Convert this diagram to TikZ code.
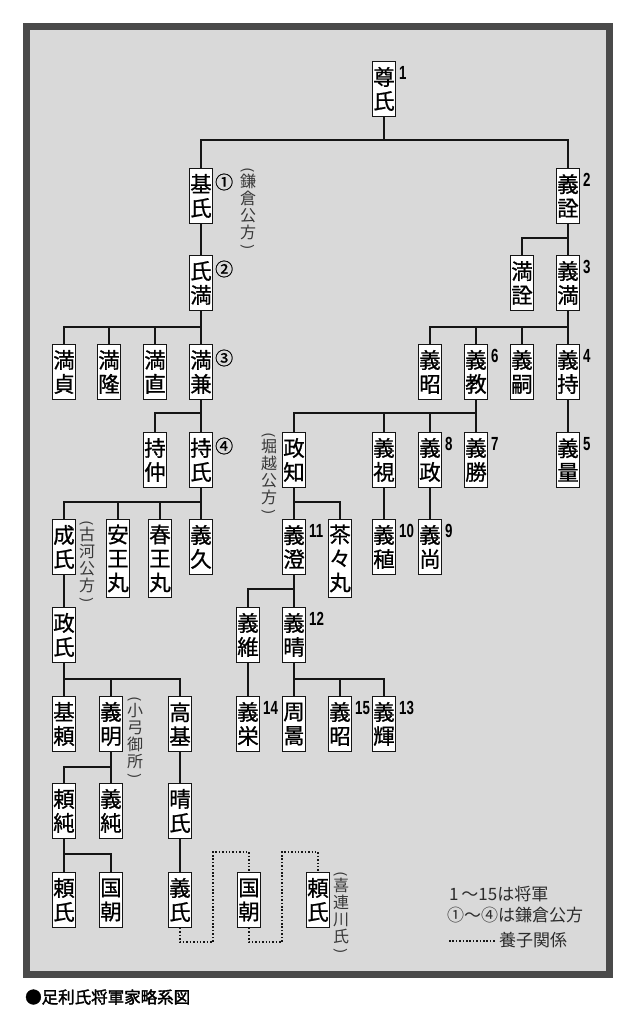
\documentclass[tikz,border=0pt]{standalone}
\usepackage{graphicx}
\usepackage{fontspec}
\setmainfont{Noto Sans CJK JP}
\newfontfamily\namefont[FakeBold=0.8]{Noto Sans CJK JP}
\newfontfamily\notefont{Noto Sans CJK JP}
\newfontfamily\numfont[FakeStretch=0.7]{Liberation Sans}
\newfontfamily\capfont[FakeBold=2]{Noto Sans CJK JP}
\definecolor{panel}{HTML}{D9D9D9}
\definecolor{rim}{HTML}{4A4A4A}
\definecolor{ink}{HTML}{151515}
\newcommand{\upparen}{\rotatebox[origin=c]{-90}{\scalebox{1}[0.85]{(}}}
\newcommand{\downparen}{\rotatebox[origin=c]{-90}{\scalebox{1}[0.85]{)}}}

\begin{document}
\begin{tikzpicture}[
  x=1pt, y=-1pt,
  person/.style={draw=ink, line width=0.9pt, fill=white, anchor=north, align=center,
    minimum width=23pt, minimum height=55pt, inner xsep=0.5pt, inner ysep=2pt,
    font=\namefont\fontsize{21.5}{24}\selectfont},
  tall/.style={minimum height=78pt},
  link/.style={draw=ink, line width=2.8pt},
  adopt/.style={draw=ink, line width=1.5pt, dash pattern=on 1.5pt off 1.9pt},
  shogun/.style={anchor=west, inner sep=0pt, font=\numfont\bfseries\fontsize{19}{19}\selectfont},
  kubo/.style={anchor=west, inner sep=0pt, font=\namefont\fontsize{18}{18}\selectfont},
  note/.style={anchor=north, align=center, inner sep=0pt, text=ink!85, font=\notefont\fontsize{16}{17}\selectfont},
  key/.style={anchor=west, inner sep=0pt, text=ink!90, font=\notefont\fontsize{17}{17}\selectfont}]

  \useasboundingbox[fill=white] (0,0) rectangle (638,1024);
  \draw[rim, line width=7pt, fill=panel] (26.5,26.5) rectangle (609.5,974.5);

  % bar heights
  \coordinate (g1) at (0,140);
  \coordinate (g2) at (0,238);
  \coordinate (g3) at (0,327);
  \coordinate (g4) at (0,413);
  \coordinate (g5) at (0,502);
  \coordinate (g6) at (0,589);
  \coordinate (g7) at (0,679);
  \coordinate (g8) at (0,767);
  \coordinate (g9) at (0,854);

  % people
  \node[person] (takauji) at (384,61) {尊\\氏};

  \node[person] (motouji) at (201,168) {基\\氏};
  \node[person] (yoshiakira) at (568,168) {義\\詮};

  \node[person] (ujimitsu) at (201,255) {氏\\満};
  \node[person] (mitsuakira) at (522,255) {満\\詮};
  \node[person] (yoshimitsu) at (568,255) {義\\満};

  \node[person] (mitsusada) at (64,344) {満\\貞};
  \node[person] (mitsutaka) at (109,344) {満\\隆};
  \node[person] (mitsunao) at (155,344) {満\\直};
  \node[person] (mitsukane) at (201,344) {満\\兼};
  \node[person] (yoshiakiA) at (430,344) {義\\昭};
  \node[person] (yoshinori) at (476,344) {義\\教};
  \node[person] (yoshitsugu) at (522,344) {義\\嗣};
  \node[person] (yoshimochi) at (568,344) {義\\持};

  \node[person] (mochinaka) at (155,432) {持\\仲};
  \node[person] (mochiuji) at (201,432) {持\\氏};
  \node[person] (masatomo) at (294,432) {政\\知};
  \node[person] (yoshimi) at (384,432) {義\\視};
  \node[person] (yoshimasa) at (430,432) {義\\政};
  \node[person] (yoshikatsu) at (476,432) {義\\勝};
  \node[person] (yoshikazu) at (568,432) {義\\量};

  \node[person] (shigeuji) at (64,519) {成\\氏};
  \node[person, tall] (yasuomaru) at (118,519) {安\\王\\丸};
  \node[person, tall] (haruomaru) at (160,519) {春\\王\\丸};
  \node[person] (yoshihisaK) at (201,519) {義\\久};
  \node[person] (yoshizumi) at (294,519) {義\\澄};
  \node[person, tall] (chachamaru) at (340,519) {茶\\々\\丸};
  \node[person] (yoshitane) at (384,519) {義\\稙};
  \node[person] (yoshihisa) at (430,519) {義\\尚};

  \node[person] (masauji) at (64,607) {政\\氏};
  \node[person] (yoshitsuna) at (248,607) {義\\維};
  \node[person] (yoshiharu) at (294,607) {義\\晴};

  \node[person] (motoyori) at (64,696) {基\\頼};
  \node[person] (yoshiaki) at (111,696) {義\\明};
  \node[person] (takamoto) at (180,696) {高\\基};
  \node[person] (yoshihide) at (248,696) {義\\栄};
  \node[person] (shuko) at (294,696) {周\\暠};
  \node[person] (yoshiakiB) at (340,696) {義\\昭};
  \node[person] (yoshiteru) at (384,696) {義\\輝};

  \node[person] (yorizumi) at (64,783) {頼\\純};
  \node[person] (yoshizumiO) at (111,783) {義\\純};
  \node[person] (haruuji) at (180,783) {晴\\氏};

  \node[person] (yoriujiA) at (64,872) {頼\\氏};
  \node[person] (kunitomoA) at (111,872) {国\\朝};
  \node[person] (yoshiuji) at (180,872) {義\\氏};
  \node[person] (kunitomoB) at (249,872) {国\\朝};
  \node[person] (yoriujiB) at (318,872) {頼\\氏};

  % shogun numbers
  \node[shogun] (n1) at ([xshift=3pt,yshift=-12pt]takauji.north east) {1};
  \node[shogun] (n2) at ([xshift=3pt,yshift=-12pt]yoshiakira.north east) {2};
  \node[shogun] (n3) at ([xshift=3pt,yshift=-12pt]yoshimitsu.north east) {3};
  \node[shogun] (n4) at ([xshift=3pt,yshift=-12pt]yoshimochi.north east) {4};
  \node[shogun] (n5) at ([xshift=3pt,yshift=-12pt]yoshikazu.north east) {5};
  \node[shogun] (n6) at ([xshift=3pt,yshift=-12pt]yoshinori.north east) {6};
  \node[shogun] (n7) at ([xshift=3pt,yshift=-12pt]yoshikatsu.north east) {7};
  \node[shogun] (n8) at ([xshift=3pt,yshift=-12pt]yoshimasa.north east) {8};
  \node[shogun] (n9) at ([xshift=3pt,yshift=-12pt]yoshihisa.north east) {9};
  \node[shogun] (n10) at ([xshift=3pt,yshift=-12pt]yoshitane.north east) {10};
  \node[shogun] (n11) at ([xshift=3pt,yshift=-12pt]yoshizumi.north east) {11};
  \node[shogun] (n12) at ([xshift=3pt,yshift=-12pt]yoshiharu.north east) {12};
  \node[shogun] (n13) at ([xshift=3pt,yshift=-12pt]yoshiteru.north east) {13};
  \node[shogun] (n14) at ([xshift=3pt,yshift=-12pt]yoshihide.north east) {14};
  \node[shogun] (n15) at ([xshift=3pt,yshift=-12pt]yoshiakiB.north east) {15};

  % kamakura kubo numbers
  \node[kubo] (k1) at ([xshift=2pt,yshift=-14pt]motouji.north east) {①};
  \node[kubo] (k2) at ([xshift=2pt,yshift=-14pt]ujimitsu.north east) {②};
  \node[kubo] (k3) at ([xshift=2pt,yshift=-14pt]mitsukane.north east) {③};
  \node[kubo] (k4) at ([xshift=2pt,yshift=-14pt]mochiuji.north east) {④};

  % side notes
  \node[note] (kamakura) at (248,167) {\upparen\\[-4pt]鎌\\倉\\公\\方\\[-4pt]\downparen};
  \node[note] (horigoe) at (269,432) {\upparen\\[-4pt]堀\\越\\公\\方\\[-4pt]\downparen};
  \node[note] (koga) at (87,520) {\upparen\\[-4pt]古\\河\\公\\方\\[-4pt]\downparen};
  \node[note] (oyumi) at (135,696) {\upparen\\[-4pt]小\\弓\\御\\所\\[-4pt]\downparen};
  \node[note] (kitsuregawa) at (341,871) {\upparen\\[-4pt]喜\\連\\川\\氏\\[-4pt]\downparen};

  % lines of descent
  \foreach \c in {motouji,yoshiakira}
    \draw[link] (takauji.south) -- (takauji |- g1) -| (\c.north);
  \draw[link] (motouji.south) -- (ujimitsu.north);
  \foreach \c in {mitsuakira,yoshimitsu}
    \draw[link] (yoshiakira.south) -- (yoshiakira |- g2) -| (\c.north);
  \foreach \c in {mitsusada,mitsutaka,mitsunao,mitsukane}
    \draw[link] (ujimitsu.south) -- (ujimitsu |- g3) -| (\c.north);
  \foreach \c in {yoshiakiA,yoshinori,yoshitsugu,yoshimochi}
    \draw[link] (yoshimitsu.south) -- (yoshimitsu |- g3) -| (\c.north);
  \foreach \c in {mochinaka,mochiuji}
    \draw[link] (mitsukane.south) -- (mitsukane |- g4) -| (\c.north);
  \foreach \c in {masatomo,yoshimi,yoshimasa,yoshikatsu}
    \draw[link] (yoshinori.south) -- (yoshinori |- g4) -| (\c.north);
  \draw[link] (yoshimochi.south) -- (yoshikazu.north);
  \foreach \c in {shigeuji,yasuomaru,haruomaru,yoshihisaK}
    \draw[link] (mochiuji.south) -- (mochiuji |- g5) -| (\c.north);
  \foreach \c in {yoshizumi,chachamaru}
    \draw[link] (masatomo.south) -- (masatomo |- g5) -| (\c.north);
  \draw[link] (yoshimi.south) -- (yoshitane.north);
  \draw[link] (yoshimasa.south) -- (yoshihisa.north);
  \draw[link] (shigeuji.south) -- (masauji.north);
  \foreach \c in {yoshitsuna,yoshiharu}
    \draw[link] (yoshizumi.south) -- (yoshizumi |- g6) -| (\c.north);
  \foreach \c in {motoyori,yoshiaki,takamoto}
    \draw[link] (masauji.south) -- (masauji |- g7) -| (\c.north);
  \draw[link] (yoshitsuna.south) -- (yoshihide.north);
  \foreach \c in {shuko,yoshiakiB,yoshiteru}
    \draw[link] (yoshiharu.south) -- (yoshiharu |- g7) -| (\c.north);
  \foreach \c in {yorizumi,yoshizumiO}
    \draw[link] (yoshiaki.south) -- (yoshiaki |- g8) -| (\c.north);
  \draw[link] (takamoto.south) -- (haruuji.north);
  \draw[link] (haruuji.south) -- (yoshiuji.north);
  \foreach \c in {yoriujiA,kunitomoA}
    \draw[link] (yorizumi.south) -- (yorizumi |- g9) -| (\c.north);

  % adoptions
  \coordinate (a1) at (213,942);
  \coordinate (a2) at (213,852);
  \coordinate (a3) at (282,942);
  \coordinate (a4) at (282,852);
  \draw[adopt] (yoshiuji.south) |- (a1) -- (a2) -| (kunitomoB.north);
  \draw[adopt] (kunitomoB.south) |- (a3) -- (a4) -| (yoriujiB.north);

  % key
  \node[key] (key1) at (449,894) {1\,～15は将軍};
  \node[key] (key2) at (447,915.5) {①～④は鎌倉公方};
  \coordinate (d1) at (449,941);
  \coordinate (d2) at (495,941);
  \draw[adopt] (d1) -- (d2);
  \node[key] (key3) at (499,940) {養子関係};

  \node[anchor=west, inner sep=0pt, font=\capfont\fontsize{16.5}{16.5}\selectfont] (caption) at (25,997) {●足利氏将軍家略系図};
\end{tikzpicture}
\end{document}
